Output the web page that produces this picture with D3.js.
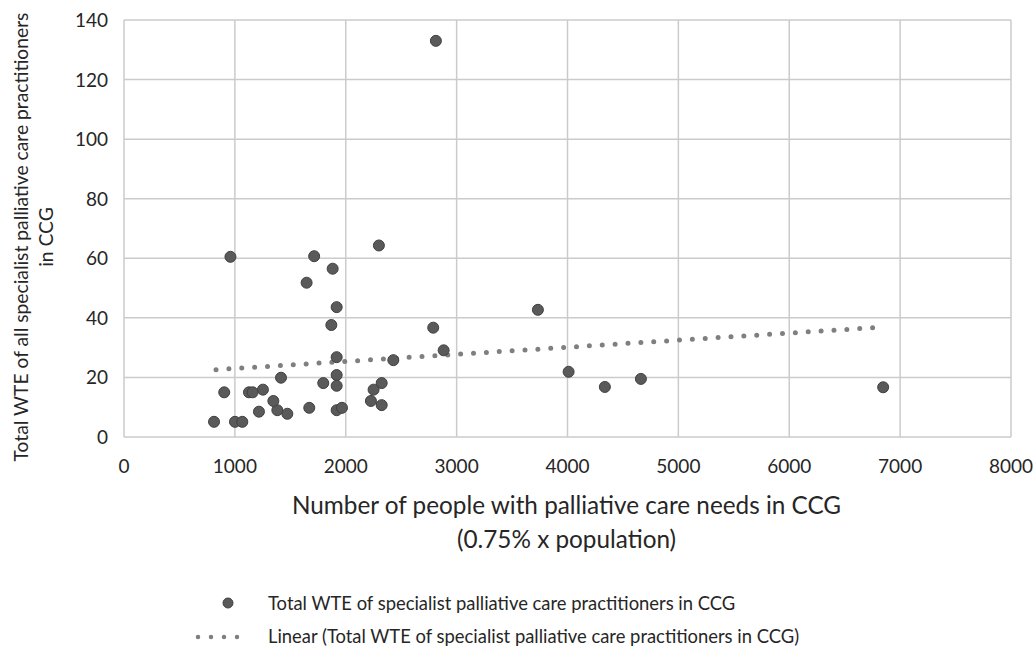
<!DOCTYPE html>
<html>
<head>
<meta charset="utf-8">
<script src="https://cdn.jsdelivr.net/npm/d3@7"></script>
<style>
  body { margin: 0; background: #fff; }
  text { font-family: Lato, "Open Sans", sans-serif; fill: #262626; }
</style>
</head>
<body>
<div id="vis"></div>
<script>
// people with palliative care needs (x) vs total WTE (y)
var xVals = [2813, 960, 1715, 1882, 2299, 1647, 1918, 1870, 2789, 3733,
             2883, 2429, 1918, 1416, 1918, 1918, 1797, 2324, 2251, 2227,
             2324, 1918, 1966, 1671, 1473, 1383, 1347, 1217, 1253, 1127,
             1160, 904, 812, 1001, 1067, 4010, 4337, 4662, 6847];
var yVals = [133, 60.5, 60.7, 56.5, 64.3, 51.8, 43.6, 37.6, 36.7, 42.7,
             29.1, 25.8, 26.8, 19.9, 20.8, 17.2, 18.1, 18.1, 15.9, 12.1,
             10.7, 9.0, 9.8, 9.8, 7.8, 9.0, 12.1, 8.5, 15.9, 15.0,
             15.0, 15.0, 5.1, 5.1, 5.1, 21.9, 16.8, 19.5, 16.7];

// linear trend end points
var trendX = [830, 6760];
var trendY = [22.6, 36.7];

var xTicks = [0, 1000, 2000, 3000, 4000, 5000, 6000, 7000, 8000];
var yTicks = [0, 20, 40, 60, 80, 100, 120, 140];

var seriesName = "Total WTE of specialist palliative care practitioners in CCG";
var trendName = "Linear (Total WTE of specialist palliative care practitioners in CCG)";

var W = 1035, H = 651,
    pLeft = 124, pRight = 1011, pTop = 20, pBottom = 437;

var x = d3.scaleLinear().domain([0, 8000]).range([pLeft, pRight]),
    y = d3.scaleLinear().domain([0, 140]).range([pBottom, pTop]);

var svg = d3.select("#vis").append("svg")
    .attr("width", W)
    .attr("height", H);

// grid
svg.append("g").selectAll("line")
    .data(xTicks)
  .enter().append("line")
    .attr("x1", function(d) { return x(d); })
    .attr("x2", function(d) { return x(d); })
    .attr("y1", pTop).attr("y2", pBottom)
    .attr("stroke", "#cbcbcb").attr("stroke-width", 1.5);

svg.append("g").selectAll("line")
    .data(yTicks)
  .enter().append("line")
    .attr("y1", function(d) { return y(d); })
    .attr("y2", function(d) { return y(d); })
    .attr("x1", pLeft).attr("x2", pRight)
    .attr("stroke", "#cbcbcb").attr("stroke-width", 1.5);

// tick labels
svg.append("g").selectAll("text")
    .data(xTicks)
  .enter().append("text")
    .attr("x", function(d) { return x(d); })
    .attr("y", 473)
    .attr("text-anchor", "middle")
    .style("font-size", "19px")
    .text(function(d) { return d; });

svg.append("g").selectAll("text")
    .data(yTicks)
  .enter().append("text")
    .attr("x", 108)
    .attr("y", function(d) { return y(d) + 7; })
    .attr("text-anchor", "end")
    .style("font-size", "19px")
    .text(function(d) { return d; });

// trend line (round dots)
svg.append("line")
    .attr("x1", x(trendX[0])).attr("y1", y(trendY[0]))
    .attr("x2", x(trendX[1])).attr("y2", y(trendY[1]))
    .attr("stroke", "#7f7f7f")
    .attr("stroke-width", 5)
    .attr("stroke-linecap", "round")
    .attr("stroke-dasharray", "0 12.9");

// points
svg.append("g").selectAll("circle")
    .data(xVals)
  .enter().append("circle")
    .attr("cx", function(d) { return x(d); })
    .attr("cy", function(d, i) { return y(yVals[i]); })
    .attr("r", 5.5)
    .attr("fill", "#5a5a5a")
    .attr("stroke", "#404040")
    .attr("stroke-width", 1);

// axis titles
svg.append("text")
    .attr("x", (pLeft + pRight) / 2 - 1)
    .attr("y", 514)
    .attr("text-anchor", "middle")
    .style("font-size", "24.3px")
    .text("Number of people with palliative care needs in CCG");
svg.append("text")
    .attr("x", (pLeft + pRight) / 2 - 1)
    .attr("y", 548)
    .attr("text-anchor", "middle")
    .style("font-size", "24.3px")
    .text("(0.75% x population)");

var yt = svg.append("text")
    .attr("transform", "translate(28,237) rotate(-90)")
    .attr("text-anchor", "middle")
    .style("font-size", "19.3px");
yt.append("tspan").attr("x", 0).attr("y", 0)
    .text("Total WTE of all specialist palliative care practitioners");
yt.append("tspan").attr("x", 0).attr("y", 25)
    .text("in CCG");

// legend
svg.append("circle")
    .attr("cx", 228).attr("cy", 603).attr("r", 5)
    .attr("fill", "#5a5a5a").attr("stroke", "#404040");
svg.append("text")
    .attr("x", 268).attr("y", 610)
    .style("font-size", "18.4px")
    .text(seriesName);

svg.append("line")
    .attr("x1", 198).attr("y1", 637).attr("x2", 250).attr("y2", 637)
    .attr("stroke", "#7f7f7f")
    .attr("stroke-width", 4.5)
    .attr("stroke-linecap", "round")
    .attr("stroke-dasharray", "0 13");
svg.append("text")
    .attr("x", 268).attr("y", 643)
    .style("font-size", "18.4px")
    .text(trendName);
</script>
</body>
</html>
